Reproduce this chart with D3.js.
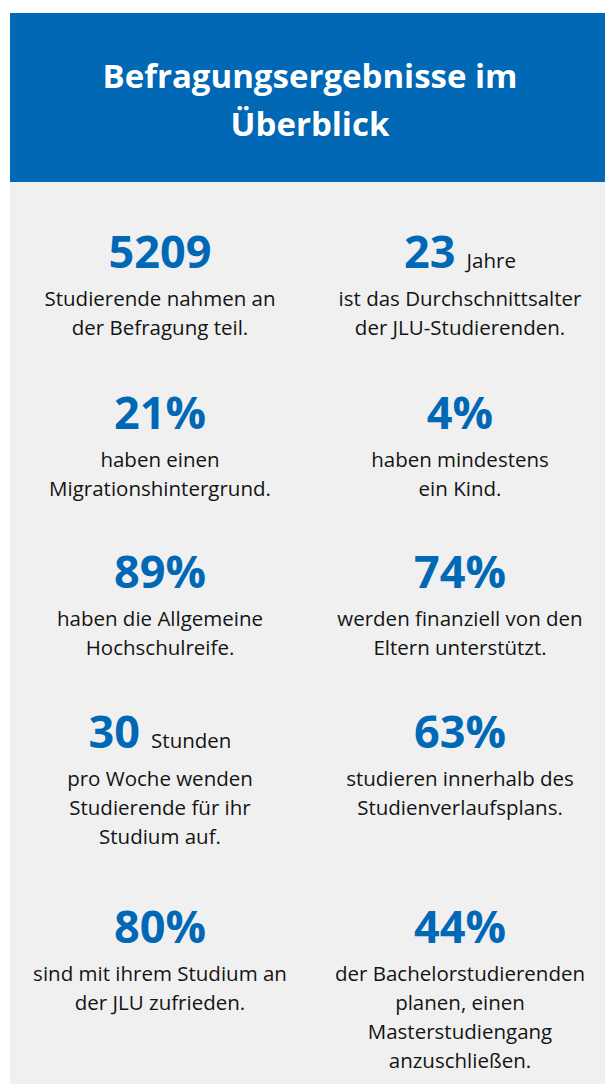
<!DOCTYPE html>
<html>
<head>
<meta charset="utf-8">
<script src="https://cdn.jsdelivr.net/npm/d3@7"></script>
<style>
  body { margin: 0; background: #fff; }
  svg { display: block; }
</style>
</head>
<body>
<script>
'use strict';
// Kennzahlen der Befragung, zeilenweise: links, rechts
const titleLines = ["Befragungsergebnisse im", "Überblick"];
const values = ["5209", "23", "21%", "4%", "89%", "74%", "30", "63%", "80%", "44%"];
const units = ["", "Jahre", "", "", "", "", "Stunden", "", "", ""];
const texts = [
  ["Studierende nahmen an", "der Befragung teil."],
  ["ist das Durchschnittsalter", "der JLU-Studierenden."],
  ["haben einen", "Migrationshintergrund."],
  ["haben mindestens", "ein Kind."],
  ["haben die Allgemeine", "Hochschulreife."],
  ["werden finanziell von den", "Eltern unterstützt."],
  ["pro Woche wenden", "Studierende für ihr", "Studium auf."],
  ["studieren innerhalb des", "Studienverlaufsplans."],
  ["sind mit ihrem Studium an", "der JLU zufrieden."],
  ["der Bachelorstudierenden", "planen, einen", "Masterstudiengang", "anzuschließen."]
];

(function() {
  const W = 605, H = 1084;
  const font = "Open Sans, sans-serif";
  const blue = "#0068b5";

  // baseline of the big number in each row
  const rowY = [268, 429, 588, 748, 943];

  const svg = d3.select("body").append("svg")
    .attr("width", W)
    .attr("height", H);

  // background panels
  svg.append("rect")
    .attr("x", 10).attr("y", 182)
    .attr("width", W - 10).attr("height", H - 182)
    .attr("fill", "#f0f0f0");

  svg.append("rect")
    .attr("x", 10).attr("y", 13)
    .attr("width", W - 10).attr("height", 169)
    .attr("fill", "#0068b4");

  // title
  svg.selectAll(".title")
    .data(titleLines)
    .enter()
    .append("text")
      .attr("class", "title")
      .attr("x", 310)
      .attr("y", (d, i) => 88 + i * 48)
      .attr("text-anchor", "middle")
      .style("font-family", font)
      .style("font-weight", "bold")
      .style("font-size", "33px")
      .attr("fill", "#fff")
      .text(d => d);

  // two columns
  const xScale = d3.scaleBand()
    .domain([0, 1])
    .range([10, 610]);
  const colX = i => xScale(i % 2) + xScale.bandwidth() / 2;

  const cells = svg.selectAll(".cell")
    .data(values.map((v, i) => ({ value: v, unit: units[i], lines: texts[i], i: i })))
    .enter()
    .append("g")
      .attr("class", "cell")
      .attr("transform", d => "translate(" + colX(d.i) + "," + rowY[Math.floor(d.i / 2)] + ")");

  // big number (+ optional unit)
  const head = cells.append("text")
    .attr("text-anchor", "middle")
    .style("font-family", font);

  head.append("tspan")
    .style("font-weight", "bold")
    .style("font-size", "45px")
    .attr("fill", blue)
    .text(d => d.value);

  head.filter(d => d.unit)
    .append("tspan")
    .attr("dx", 11)
    .style("font-size", "20.5px")
    .attr("fill", "#141414")
    .text(d => d.unit);

  // description lines
  cells.selectAll(".desc")
    .data(d => d.lines)
    .enter()
    .append("text")
      .attr("class", "desc")
      .attr("y", (d, j) => 38 + j * 29)
      .attr("text-anchor", "middle")
      .style("font-family", font)
      .style("font-size", "20.5px")
      .attr("fill", "#141414")
      .text(d => d);
})();
</script>
</body>
</html>
